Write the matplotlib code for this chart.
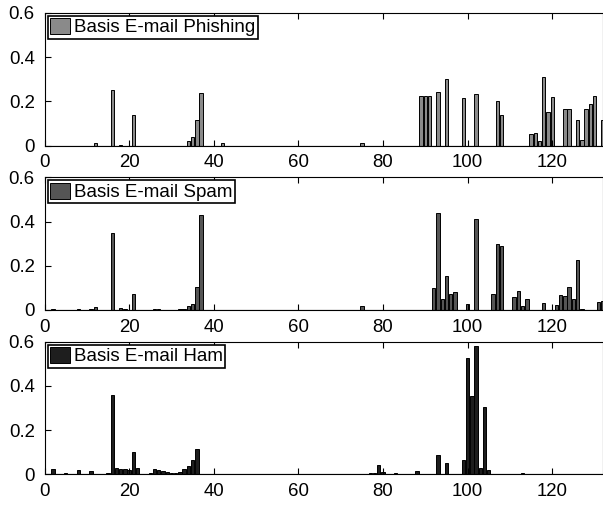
import matplotlib
matplotlib.use("Agg")
import matplotlib.pyplot as plt
import numpy as np

plt.rcParams['font.family'] = ['Liberation Sans', 'DejaVu Sans']

# ---- data (basis index -> weight) ----
phish_idx = [12, 16, 18, 21, 34, 35, 36, 37, 42, 75, 89, 90, 91, 93, 95, 99, 102,
             107, 108, 115, 116, 117, 118, 119, 120, 123, 124, 126, 127, 128, 129, 130, 132]
phish_val = [0.010, 0.250, 0.003, 0.138, 0.021, 0.037, 0.114, 0.240, 0.013, 0.010,
             0.225, 0.225, 0.225, 0.243, 0.302, 0.215, 0.234, 0.200, 0.137, 0.053,
             0.056, 0.023, 0.308, 0.150, 0.220, 0.167, 0.164, 0.116, 0.024, 0.167,
             0.189, 0.225, 0.118]

spam_idx = [2, 8, 11, 12, 16, 18, 19, 21, 26, 27, 32, 33, 34, 35, 36, 37, 42, 75, 85, 88,
            92, 93, 94, 95, 96, 97, 100, 102, 106, 107, 108, 109, 111, 112, 113, 114, 116,
            118, 121, 122, 123, 124, 125, 126, 127, 131, 132]
spam_val = [0.005, 0.005, 0.005, 0.014, 0.350, 0.008, 0.005, 0.072, 0.004, 0.004,
            0.003, 0.005, 0.018, 0.029, 0.104, 0.428, 0.002, 0.017, 0.002, 0.002,
            0.098, 0.437, 0.048, 0.155, 0.074, 0.080, 0.026, 0.410, 0.071, 0.300,
            0.291, 0.002, 0.057, 0.087, 0.020, 0.048, 0.002, 0.030, 0.021, 0.066,
            0.063, 0.104, 0.051, 0.226, 0.003, 0.035, 0.040]

ham_idx = [2, 5, 8, 11, 15, 16, 17, 18, 19, 20, 21, 22, 25, 26, 27, 28, 29, 30, 31, 32,
           33, 34, 35, 36, 40, 77, 78, 79, 80, 83, 86, 88, 93, 95, 99, 100, 101, 102, 103,
           104, 105, 109, 113, 128]
ham_val = [0.023, 0.006, 0.018, 0.017, 0.008, 0.358, 0.029, 0.026, 0.024, 0.020,
           0.100, 0.027, 0.006, 0.024, 0.020, 0.015, 0.009, 0.005, 0.004, 0.009,
           0.024, 0.039, 0.065, 0.116, 0.003, 0.006, 0.006, 0.042, 0.010, 0.006,
           0.003, 0.017, 0.089, 0.053, 0.065, 0.524, 0.355, 0.580, 0.029, 0.304,
           0.020, 0.003, 0.006, 0.003]

labels = ['Basis E-mail Phishing', 'Basis E-mail Spam', 'Basis E-mail Ham']
colors = ['#8a8a8a', '#555555', '#1e1e1e']
yticks = [0, 0.2, 0.4, 0.6]
ytick_labels = ['0', '0.2', '0.4', '0.6']
xticks = [0, 20, 40, 60, 80, 100, 120]
xtick_labels = ['0', '20', '40', '60', '80', '100', '120']

series = [(phish_idx, phish_val), (spam_idx, spam_val), (ham_idx, ham_val)]

W, H = 603, 505
fig = plt.figure(figsize=(W / 100, H / 100), dpi=100)

# axes boxes in pixels: (top, bottom)
left_px = 44.5
boxes = [(12.7, 145.7), (177.3, 310.0), (341.7, 474.3)]

for (idx, val), lab, col, (top, bot) in zip(series, labels, colors, boxes):
    ax = fig.add_axes([left_px / W, 1 - bot / H, 1 - left_px / W, (bot - top) / H])
    ax.bar(idx, val, width=0.8, color=col, edgecolor='black', linewidth=0.7, label=lab)
    ax.axhline(0, color='black', linewidth=0.8)
    ax.set_xlim(0, 132)
    ax.set_ylim(0, 0.6)
    ax.set_yticks(yticks)
    ax.set_yticklabels(ytick_labels)
    ax.set_xticks(xticks)
    ax.set_xticklabels(xtick_labels)
    ax.tick_params(direction='in', top=True, right=False, labelsize=13.4, length=4,
                   width=0.8)
    ax.tick_params(axis='x', pad=6.3)
    ax.tick_params(axis='y', pad=7)
    for s in ax.spines.values():
        s.set_linewidth(0.8)
    leg = ax.legend(loc='upper left', fontsize=13.5, frameon=True, fancybox=False,
                    edgecolor='black', framealpha=1, borderpad=0.12,
                    handlelength=1.1, handleheight=0.95, handletextpad=0.2,
                    borderaxespad=0.16)
    leg.get_frame().set_linewidth(1.2)

fig.savefig('out.png', dpi=100)
